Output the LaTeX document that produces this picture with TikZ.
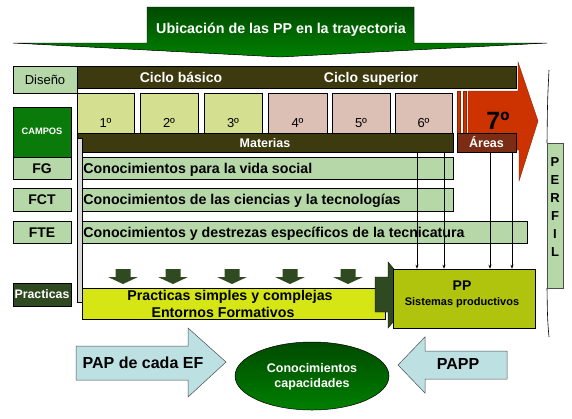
\documentclass[tikz,border=0pt]{standalone}
\usepackage{fontspec}
\setmainfont{Liberation Sans}
\usetikzlibrary{fit,arrows.meta,shapes.geometric,calc}
\definecolor{bantop}{HTML}{004A00}
\definecolor{banbot}{HTML}{008000}
\definecolor{mint}{HTML}{B6D7A8}
\definecolor{camp}{HTML}{0A7A0A}
\definecolor{olive}{HTML}{3D3A0F}
\definecolor{yrA}{HTML}{D4DF8F}
\definecolor{yrB}{HTML}{DCBFB5}
\definecolor{redar}{HTML}{CC3300}
\definecolor{areas}{HTML}{7A2C14}
\definecolor{dkg}{HTML}{2F4A20}
\definecolor{yel}{HTML}{D6E615}
\definecolor{ppc}{HTML}{B0C40E}
\definecolor{pap}{HTML}{BDE1E3}
\newcommand\myfs[1]{\fontsize{#1}{#1}\selectfont}
\begin{document}
\begin{tikzpicture}[x=1pt,y=-1pt,
  bx/.style={draw=black, line width=0.6pt, inner sep=0pt},
  tf/.style={inner sep=0pt, anchor=base, yshift={-0.36*#1}},
  wb/.style={tf=#1, text=white, font=\bfseries\myfs{#1}},
  kb/.style={tf=#1, text=black, font=\bfseries\myfs{#1}},
  kr/.style={tf=#1, text=black, font=\myfs{#1}},
  arr/.style={-{Stealth[length=4pt,width=3pt]}, line width=0.5pt}]
\useasboundingbox (0,0) rectangle (572,418);
% banner
\filldraw[top color=bantop, bottom color=banbot, draw=black, line width=0.4pt]
  (147,7) -- (414,7) -- (414,43) -- (547,43) -- (280,57) -- (13,43) -- (147,43) -- cycle;
\node[wb=14.3] (title) at (281,28) {Ubicación de las PP en la trayectoria};
% Diseño + ciclo
\node[bx, fill=mint, fit={(13,66) (77,93)}] (dis) {};
\node[kr=13] at (dis.center) {Diseño};
\node[bx, fill=olive, fit={(77,66) (516,88)}] (ciclo) {};
\node[wb=14] (cb) at (181,77) {Ciclo básico};
\node[wb=14] (cs) at (371,77) {Ciclo superior};
% years
\foreach \n/\a/\b/\c in {1/77/134/yrA,2/140/198/yrA,3/204/262/yrA,4/268/327/yrB,5/332/390/yrB,6/395/452/yrB}{
  \node[bx, fill=\c, fit={(\a,93) (\b,134)}] (y\n) {};
  \node[kr=13] at ($(y\n.center)+(0,9)$) {{\n}º};
}
% red striped arrow
\filldraw[fill=redar, draw=redar!70!black, line width=0.4pt] (457,91) rectangle (460,134);
\filldraw[fill=redar, draw=redar!70!black, line width=0.4pt] (463,91) rectangle (466,134);
\filldraw[fill=redar, draw=redar!70!black, line width=0.4pt]
  (468,91) -- (518,91) -- (518,62) -- (538,121) -- (519,181) -- (519,150) -- (468,150) -- cycle;
\node[kb=25] (siete) at (498,120) {7º};
% Materias / Areas
\node[bx, fill=olive, fit={(77,133) (453,152)}] (mat) {};
\node[wb=12.5] at (mat.center) {Materias};
\node[bx, fill=areas, fit={(457,133) (516,152)}] (are) {};
\node[wb=12.5] at (are.center) {Áreas};
% campos column
\node[bx, fill=camp, fit={(13,107) (71,157)}] (campos) {};
\node[wb=9.3] at (42,131) {CAMPOS};
\node[bx, fill=mint, fit={(13,157) (71,179)}] (fg) {};
\node[kb=14] at (fg.center) {FG};
\node[bx, fill=mint, fit={(13,188) (71,211)}] (fct) {};
\node[kb=14] at (fct.center) {FCT};
\node[bx, fill=mint, fit={(13,221) (71,243)}] (fte) {};
\node[kb=14] at (fte.center) {FTE};
\node[bx, fill=dkg, fit={(13,283) (71,306)}] (prl) {};
\node[wb=12.3] at (prl.center) {Practicas};
% gray bracket bar
\node[bx, fill=black!15, fit={(77,138) (82,302)}] (gbar) {};
% knowledge bars
\node[bx, fill=mint, fit={(82,157) (453,179)}] (b1) {};
\node[kb=14.2, anchor=base west] at ($(b1.west)+(1.5,0)$) {Conocimientos para la vida social};
\node[bx, fill=mint, fit={(82,188) (453,211)}] (b2) {};
\node[kb=14.2, anchor=base west] at ($(b2.west)+(1.5,0)$) {Conocimientos de las ciencias y la tecnologías};
\node[bx, fill=mint, fit={(82,221) (527,243)}] (b3) {};
\node[kb=14.2, anchor=base west] at ($(b3.west)+(1.5,0)$) {Conocimientos y destrezas específicos de la tecnicatura};
% small down arrows
\foreach \cx in {123,173,232,290,348}{
  \fill[dkg] (\cx-7.5,269) -- (\cx+7.5,269) -- (\cx+7.5,277) -- (\cx+15,277) -- (\cx,284)
    -- (\cx-15,277) -- (\cx-7.5,277) -- cycle;
}
% practicas box
\node[bx, fill=yel, fit={(82,288) (385,319)}] (prac) {};
\node[kb=14.2] at (230,295) {Practicas simples y complejas};
\node[kb=14.2] at (223,312) {Entornos Formativos};
% block arrow into PP
\filldraw[fill=dkg, draw=black, line width=0.4pt]
  (375,277) -- (388,277) -- (388,262) -- (416,295) -- (388,328) -- (388,312) -- (375,312) -- cycle;
\node[bx, fill=ppc, fit={(393,269) (535,328)}] (pp) {};
\node[kb=14] at (462,285) {PP};
\node[kb=11] at (462,302) {Sistemas productivos};
% arrows from materias / areas to PP
\coordinate (m1) at (417,152);
\coordinate (m2) at (444,152);
\coordinate (a1) at (490,152);
\coordinate (a2) at (512,152);
\foreach \c in {m1,m2,a1,a2}{ \draw[arr] (\c) -- (\c |- pp.north); }
% PERFIL
\draw[line width=0.6pt] (549,70) .. controls (547.5,100) .. (547,143);
\draw[line width=0.6pt] (547,288) .. controls (547.5,320) .. (549,337);
\node[bx, draw=black!70, fill=mint, fit={(547,143) (563,288)}] (perfil) {};
\foreach \l/\yy in {P/162,E/180,R/198,F/216,I/234,L/252}{
  \node[kb=13] at (555,\yy) {\l};
}
% bottom
\filldraw[fill=pap, draw=black!70, line width=0.5pt]
  (76,346) -- (188,346) -- (188,328) -- (226,362) -- (188,397) -- (188,380) -- (76,380) -- cycle;
\node[kb=16] (papt) at (143,363) {PAP de cada EF};
\node[ellipse, draw=black, line width=0.5pt, top color=bantop, bottom color=banbot,
  minimum width=154pt, minimum height=68pt, inner sep=0pt] (con) at (312,376) {};
\node[wb=12.5] at (312,368) {Conocimientos};
\node[wb=12.5] at (312,383) {capacidades};
\filldraw[fill=pap, draw=black!70, line width=0.5pt]
  (507,351) -- (425,351) -- (425,337) -- (398,365) -- (425,393) -- (425,379) -- (507,379) -- cycle;
\node[kb=16] (pappt) at (458,364) {PAPP};
\end{tikzpicture}
\end{document}
